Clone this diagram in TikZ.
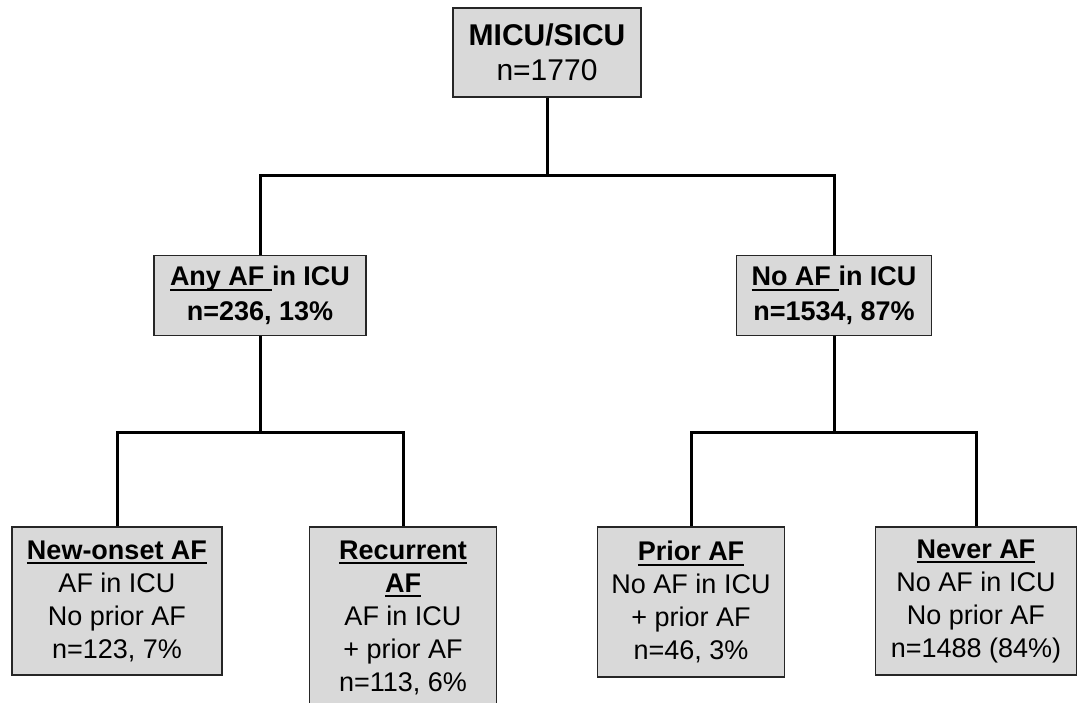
\documentclass[tikz,border=0pt]{standalone}
\usepackage{fontspec}
\setmainfont{Liberation Sans}
\usepackage{xcolor}
\usetikzlibrary{positioning}

\definecolor{boxgray}{RGB}{217,217,217}

% underline at a fixed depth, a bit heavier than \underline
\newsavebox{\undlbox}
\newcommand{\undl}[1]{\sbox{\undlbox}{#1}\leavevmode
\rlap{\vrule width\wd\undlbox height -3pt depth 5pt}\usebox{\undlbox}}

\begin{document}
\begin{tikzpicture}[-,x=1pt,y=1pt,
node distance=157pt]

\tikzstyle{box}=[rectangle, fill=boxgray, draw=black!85, line width=1.5pt,
align=center, inner sep=0pt, text=black, font=\fontsize{27}{33}\selectfont]
\tikzstyle{link}=[line width=3pt, draw=black]

\useasboundingbox (0,0) rectangle (1078,-702);

%top state
\node[box, minimum width=188pt, minimum height=89pt,
font=\fontsize{30}{35}\selectfont]
(icu) at (547,-52.5)
{\textbf{MICU/SICU}\\n=1770};

%second level
\node[box, minimum width=212pt, minimum height=80pt,
font=\bfseries\fontsize{27}{35}\selectfont]
(anyaf) [below=of icu, xshift=-287pt]
{\undl{Any AF\ }in ICU\\n=236, 13\%};

\node[box, minimum width=195pt, minimum height=80pt,
font=\bfseries\fontsize{27}{35}\selectfont]
(noaf) [below=of icu, xshift=287pt]
{\undl{No AF\ }in ICU\\n=1534, 87\%};

%third level
\node[box, minimum width=210pt, minimum height=148pt]
(newaf) [below=190pt of anyaf, xshift=-143pt]
{\undl{\textbf{New-onset AF}}\\AF in ICU\\No prior AF\\n=123, 7\%};

\node[box, minimum width=187pt, minimum height=181pt]
(recaf) [below=190pt of anyaf, xshift=143pt]
{\undl{\textbf{Recurrent}}\\\undl{\textbf{AF}}\\AF in ICU\\+ prior AF\\n=113, 6\%};

\node[box, minimum width=187pt, minimum height=150pt]
(priaf) [below=190pt of noaf, xshift=-143pt]
{\undl{\textbf{Prior AF}}\\No AF in ICU\\+ prior AF\\n=46, 3\%};

\node[box, minimum width=201pt, minimum height=148pt]
(nevaf) [below=190pt of noaf, xshift=142pt]
{\undl{\textbf{Never AF}}\\No AF in ICU\\No prior AF\\n=1488 (84\%)};

\draw[link] (icu.south) -- ++(0,-78) coordinate (split1);
\draw[link] (anyaf.north) |- (split1) -| (noaf.north);

\draw[link] (anyaf.south) -- ++(0,-96) coordinate (split2);
\draw[link] (newaf.north) |- (split2) -| (recaf.north);

\draw[link] (noaf.south) -- ++(0,-96) coordinate (split3);
\draw[link] (priaf.north) |- (split3) -| (nevaf.north);

\end{tikzpicture}
\end{document}
